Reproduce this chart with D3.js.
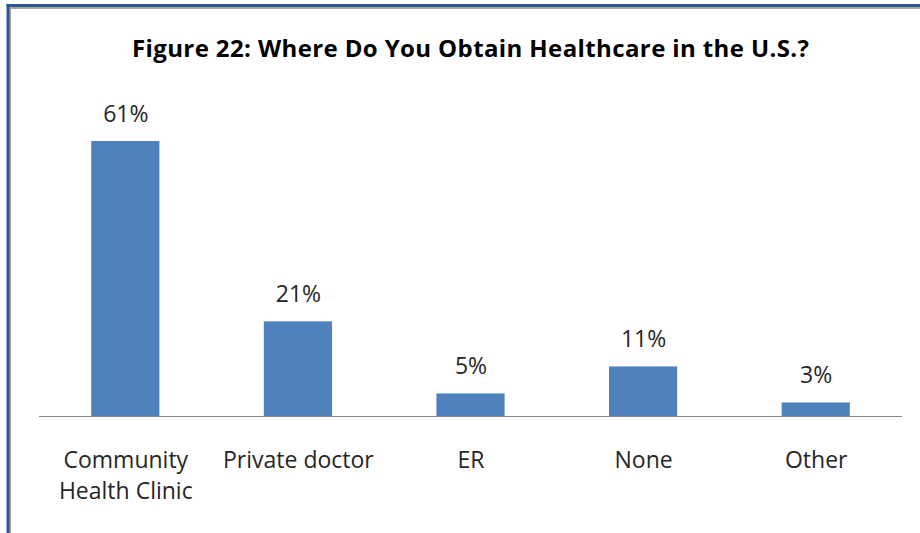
<!DOCTYPE html>
<html>
<head>
<meta charset="utf-8">
<script src="https://cdn.jsdelivr.net/npm/d3@7"></script>
<style>
  html, body { margin: 0; padding: 0; background: #ffffff; }
  svg { display: block; }
  text { font-family: "Open Sans", Lato, sans-serif; }
</style>
</head>
<body>
<script>
const title = "Figure 22: Where Do You Obtain Healthcare in the U.S.?";
const categories = ["Community Health Clinic", "Private doctor", "ER", "None", "Other"];
const categoryLines = [["Community", "Health Clinic"], ["Private doctor"], ["ER"], ["None"], ["Other"]];
const values = [61, 21, 5, 11, 3];
const valueLabels = ["61%", "21%", "5%", "11%", "3%"];

const W = 920, H = 533;
const svg = d3.select("body").append("svg").attr("width", W).attr("height", H);

// frame
svg.append("rect").attr("x", 0).attr("y", 0).attr("width", W).attr("height", H).attr("fill", "#ffffff");
svg.append("line").attr("x1", 8).attr("x2", W).attr("y1", 8).attr("y2", 8).attr("stroke", "#a6a6a6").attr("stroke-width", 2);
svg.append("line").attr("x1", 10).attr("x2", 10).attr("y1", 8).attr("y2", H).attr("stroke", "#a6a6a6").attr("stroke-width", 2);
svg.append("line").attr("x1", 6.5).attr("x2", W).attr("y1", 5.5).attr("y2", 5.5).attr("stroke", "#2c5890").attr("stroke-width", 3);
svg.append("line").attr("x1", 8).attr("x2", 8).attr("y1", 4).attr("y2", H).attr("stroke", "#2c5890").attr("stroke-width", 3);

const x0 = 39, x1 = 902, yBase = 416;
const x = d3.scaleBand().domain(categories).range([x0, x1]).paddingInner(0.605).paddingOuter(0.3025);
const y = d3.scaleLinear().domain([0, 61]).range([yBase, 141]);

svg.append("text")
  .attr("x", (x0 + x1) / 2).attr("y", 57)
  .attr("text-anchor", "middle")
  .attr("font-weight", "bold").attr("font-size", 24)
  .attr("textLength", 677).attr("lengthAdjust", "spacing")
  .attr("fill", "#000000")
  .text(title);

svg.selectAll("rect.bar").data(values).join("rect")
  .attr("class", "bar")
  .attr("x", (d, i) => x(categories[i]))
  .attr("width", x.bandwidth())
  .attr("y", d => y(d))
  .attr("height", d => yBase - y(d))
  .attr("fill", "#4f81bd");

svg.selectAll("text.val").data(values).join("text")
  .attr("class", "val")
  .attr("x", (d, i) => x(categories[i]) + x.bandwidth() / 2 + 0.5)
  .attr("y", d => y(d) - 19)
  .attr("text-anchor", "middle")
  .attr("font-size", 23)
  .attr("fill", "#262626")
  .text((d, i) => valueLabels[i]);

svg.append("line").attr("x1", x0).attr("x2", x1).attr("y1", yBase + 0.5).attr("y2", yBase + 0.5)
  .attr("stroke", "#868686").attr("stroke-width", 1);

categories.forEach((c, i) => {
  const cx = x(c) + x.bandwidth() / 2 + 0.5;
  const t = svg.append("text")
    .attr("x", cx)
    .attr("y", 468)
    .attr("text-anchor", "middle")
    .attr("font-size", 23)
    .attr("fill", "#262626");
  categoryLines[i].forEach((ln, j) => {
    t.append("tspan").attr("x", cx).attr("y", 468 + j * 31).text(ln);
  });
});
</script>
</body>
</html>
